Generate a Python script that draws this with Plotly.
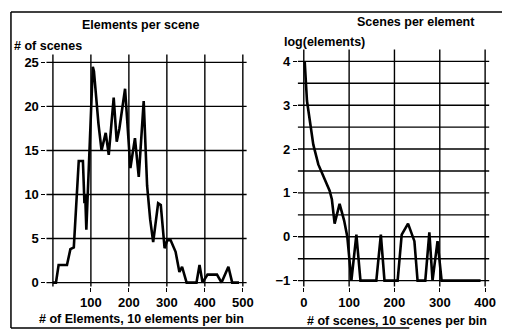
import plotly.graph_objects as go

# Left panel: elements per scene (x = # of elements, y = # of scenes)
elem_x = [0, 8, 15, 37, 46, 55, 68, 79, 83, 85, 88, 100, 105, 108, 112, 120, 128, 139, 147,
          160, 168, 175, 190, 204, 216, 226, 239, 248, 256, 264, 277, 284, 294, 301, 310,
          323, 333, 340, 352, 378, 386, 394, 407, 432, 444, 462, 472, 490]
elem_y = [0, 0, 2, 2, 3.8, 4, 13.8, 13.8, 9, 10, 6, 18, 24.5, 24, 22, 18, 15, 17, 14.5,
          21, 16, 17.5, 22, 13, 16.4, 12, 20.6, 11, 7.2, 4.6, 9, 8.8, 3.9, 4.8, 4.8,
          3.5, 1.2, 1.8, 0, 0, 2, 0, 0.9, 0.9, 0, 1.8, 0, 0]

# Right panel: scenes per element (x = # of scenes, y = log(elements))
scene_x = [2, 7, 14, 21, 32, 46, 57, 62, 68, 79, 89, 96, 105, 116, 125, 160, 170, 178,
           207, 216, 230, 244, 251, 268, 277, 284, 295, 304, 390]
scene_y = [4.0, 3.1, 2.6, 2.1, 1.65, 1.3, 1.05, 0.85, 0.3, 0.75, 0.37, 0.0, -1, 0.05, -1,
           -1, 0.05, -1, -1, 0.05, 0.3, -0.1, -1, -1, 0.1, -1, -0.1, -1, -1]

left_xticks = [100, 200, 300, 400, 500]
left_xgrid = [0, 100, 200, 300, 400, 500]
left_yticks = [0, 5, 10, 15, 20, 25]
right_xticks = [0, 100, 200, 300, 400]
right_yticks = [-1, 0, 1, 2, 3, 4]
right_ygrid = [-1, -0.5, 0, 0.5, 1, 1.5, 2, 2.5, 3, 3.5, 4]

# page body has an 8px margin, so the figure is laid out in shifted pixel coordinates
OFF = 8
W, H = 502, 328
def px(x): return (x - OFF) / W
def py(y): return 1 - (y - OFF) / H

FONT = dict(family="Liberation Sans, Arial, sans-serif", size=13, color="black", weight="bold")
TFONT = dict(family="Liberation Sans, Arial, sans-serif", size=12.5, color="black", weight="bold")

L_XR, L_YR = [-17, 510], [-0.45, 25.9]
R_XR, R_YR = [-13, 409], [-1.135, 4.27]

fig = go.Figure()

axis_common = dict(showgrid=False, zeroline=False, showline=False, ticks="outside",
                   ticklen=4, tickcolor="black", tickwidth=1.2, tickfont=FONT)

fig.update_layout(
    width=W, height=H,
    margin=dict(l=0, r=0, t=0, b=0),
    paper_bgcolor="white", plot_bgcolor="white",
    xaxis=dict(domain=[px(47), px(250)], range=L_XR, tickvals=left_xticks,
               anchor="y", **axis_common),
    yaxis=dict(domain=[py(290), py(55)], range=L_YR, tickvals=left_yticks,
               anchor="x", **axis_common),
    xaxis2=dict(domain=[px(302), px(496)], range=R_XR, tickvals=right_xticks,
                anchor="y2", **axis_common),
    yaxis2=dict(domain=[py(290), py(50)], range=R_YR, tickvals=right_yticks,
                anchor="x2", **axis_common),
)

grid = dict(color="black", width=1.4)
# grid lines, drawn in data coordinates from the tick lists
for v in left_xgrid:
    fig.add_shape(type="line", xref="x", yref="y domain", x0=v, x1=v, y0=0, y1=1, line=grid, layer="below")
for v in left_yticks:
    fig.add_shape(type="line", xref="x domain", yref="y", x0=0, x1=1, y0=v, y1=v, line=grid, layer="below")
for v in right_xticks:
    fig.add_shape(type="line", xref="x2", yref="y2 domain", x0=v, x1=v, y0=0, y1=1, line=grid, layer="below")
for v in right_ygrid:
    fig.add_shape(type="line", xref="x2 domain", yref="y2", x0=0, x1=1, y0=v, y1=v, line=grid, layer="below")

fig.add_trace(go.Scatter(x=elem_x, y=elem_y, mode="lines",
                         line=dict(color="black", width=2.6), xaxis="x", yaxis="y",
                         showlegend=False))
fig.add_trace(go.Scatter(x=scene_x, y=scene_y, mode="lines",
                         line=dict(color="black", width=2.6), xaxis="x2", yaxis="y2",
                         showlegend=False))

ann = [
    dict(text="Elements per scene", x=px(142), y=py(25), xanchor="center"),
    dict(text="# of scenes", x=px(12), y=py(46), xanchor="left"),
    dict(text="Scenes per element", x=px(422), y=py(22), xanchor="center"),
    dict(text="log(elements)", x=px(286), y=py(42), xanchor="left"),
    dict(text="# of Elements, 10 elements per bin", x=px(143), y=py(323), xanchor="center"),
    dict(text="# of scenes, 10 scenes per bin", x=px(402), y=py(325), xanchor="center"),
]
for a in ann:
    fig.add_annotation(xref="paper", yref="paper", yanchor="middle", showarrow=False,
                       font=TFONT, **a)

# frame border (left, top, bottom)
border = dict(color="black", width=1.5)
fig.add_shape(type="line", xref="paper", yref="paper", x0=px(11), x1=px(11), y0=py(332), y1=py(12), line=border)
fig.add_shape(type="line", xref="paper", yref="paper", x0=px(11), x1=1, y0=py(12), y1=py(12), line=border)
fig.add_shape(type="line", xref="paper", yref="paper", x0=px(11), x1=px(415), y0=py(332), y1=py(332), line=border)

fig.write_html("out.html")
